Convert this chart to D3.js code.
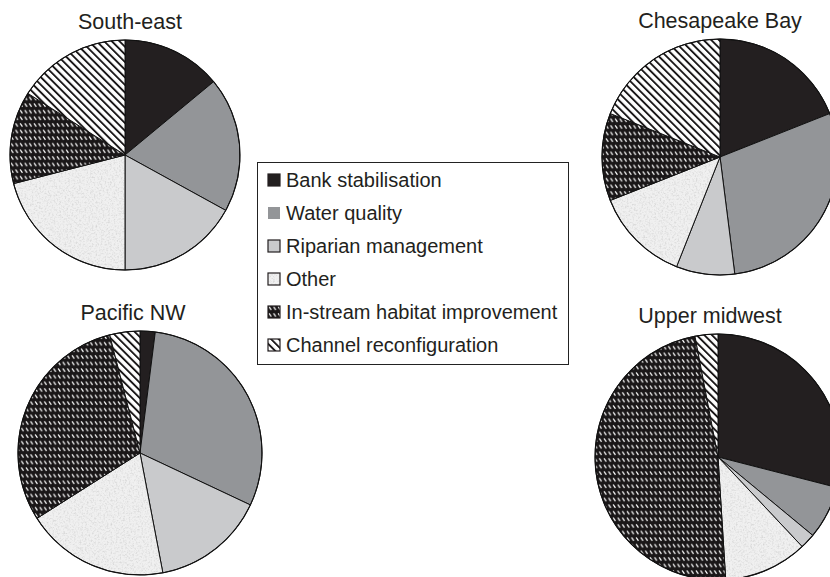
<!DOCTYPE html>
<html>
<head>
<meta charset="utf-8">
<script src="https://cdn.jsdelivr.net/npm/d3@7"></script>
<style>
  body { margin: 0; background: #fff; }
  svg { display: block; font-family: "Liberation Sans", Arial, sans-serif; }
</style>
</head>
<body>
<div id="chart"></div>
<script>
// restoration project types by region (percent of projects)
var categories = ["Bank stabilisation", "Water quality", "Riparian management", "Other",
                  "In-stream habitat improvement", "Channel reconfiguration"];
var regions = ["South-east", "Chesapeake Bay", "Pacific NW", "Upper midwest"];
var southEast = [14, 19, 17, 21, 13, 16];
var chesapeakeBay = [19, 29, 8, 13, 12, 19];
var pacificNW = [2, 30, 15, 19, 30, 4];
var upperMidwest = [29, 7, 2, 11, 48, 3];
var values = [southEast, chesapeakeBay, pacificNW, upperMidwest];

var width = 830, height = 577;

// where each pie sits
var layout = [
  {cx: 125, cy: 155, r: 115, tx: 130},
  {cx: 720, cy: 157, r: 118, tx: 720},
  {cx: 140, cy: 453, r: 122, tx: 133},
  {cx: 718, cy: 457, r: 123, tx: 710}
];

var svg = d3.select("#chart")
  .append("svg")
  .attr("width", width)
  .attr("height", height);

var defs = svg.append("defs");

// speckled light grey for "Other"
var speckle = defs.append("filter")
  .attr("id", "speckle")
  .attr("x", 0).attr("y", 0).attr("width", 1).attr("height", 1);
speckle.append("feTurbulence")
  .attr("type", "fractalNoise")
  .attr("baseFrequency", 0.55)
  .attr("numOctaves", 3)
  .attr("seed", 4)
  .attr("result", "noise");
speckle.append("feColorMatrix")
  .attr("in", "noise")
  .attr("type", "matrix")
  .attr("values", "0 0 0 0 0.55  0 0 0 0 0.55  0 0 0 0 0.55  1.4 0 0 0 -0.62")
  .attr("result", "dots");
speckle.append("feFlood").attr("flood-color", "#f0f0f0").attr("result", "base");
speckle.append("feComposite").attr("in", "dots").attr("in2", "base").attr("operator", "over");

var pOther = defs.append("pattern")
  .attr("id", "other")
  .attr("patternUnits", "userSpaceOnUse")
  .attr("width", 120).attr("height", 120);
pOther.append("rect")
  .attr("width", 120).attr("height", 120)
  .attr("fill", "#f0f0f0")
  .attr("filter", "url(#speckle)");

// black with white dashes for in-stream work
var pDash = defs.append("pattern")
  .attr("id", "instream")
  .attr("patternUnits", "userSpaceOnUse")
  .attr("width", 4.6).attr("height", 6.6);
pDash.append("rect").attr("width", 4.6).attr("height", 6.6).attr("fill", "#1a1718");
pDash.append("line")
  .attr("x1", 1).attr("y1", 1.3).attr("x2", 3.2).attr("y2", 4.5)
  .attr("stroke", "#fff").attr("stroke-width", 1.2);

// diagonal stripes for channel reconfiguration
var pStripe = defs.append("pattern")
  .attr("id", "channel")
  .attr("patternUnits", "userSpaceOnUse")
  .attr("width", 5.4).attr("height", 10)
  .attr("patternTransform", "rotate(-45)");
pStripe.append("rect").attr("width", 5.4).attr("height", 10).attr("fill", "#fff");
pStripe.append("rect").attr("width", 1.9).attr("height", 10).attr("fill", "#1a1718");

var fills = ["#231f20", "#939598", "#c9cacc", "url(#other)", "url(#instream)", "url(#channel)"];
var color = d3.scaleOrdinal().domain(categories).range(fills);

var pie = d3.pie().sort(null).value(function(d) { return d; });

regions.forEach(function(name, i) {
  var L = layout[i];
  var arc = d3.arc().innerRadius(0).outerRadius(L.r);
  var g = svg.append("g")
    .attr("transform", "translate(" + L.cx + "," + L.cy + ")");

  g.selectAll("path")
    .data(pie(values[i]))
    .enter()
    .append("path")
    .attr("d", arc)
    .attr("fill", function(d, j) { return color(categories[j]); })
    .attr("stroke", "#111")
    .attr("stroke-width", 1)
    .attr("stroke-linejoin", "round");

  g.append("circle")
    .attr("r", L.r)
    .attr("fill", "none")
    .attr("stroke", "#111")
    .attr("stroke-width", 1.1);

  svg.append("text")
    .attr("x", L.tx)
    .attr("y", L.cy - L.r - 11)
    .attr("text-anchor", "middle")
    .attr("font-size", 21.5)
    .attr("fill", "#231f20")
    .text(name);
});

// legend
var legend = svg.append("g").attr("transform", "translate(257,162)");
legend.append("rect")
  .attr("x", 0.5).attr("y", 0.5)
  .attr("width", 311).attr("height", 202)
  .attr("fill", "#fff")
  .attr("stroke", "#222")
  .attr("stroke-width", 1);

var item = legend.selectAll(".item")
  .data(categories)
  .enter()
  .append("g")
  .attr("class", "item")
  .attr("transform", function(d, j) { return "translate(11," + (18 + j * 33) + ")"; });

item.append("rect")
  .attr("x", 0).attr("y", -6)
  .attr("width", 12).attr("height", 12)
  .attr("fill", function(d) { return color(d); })
  .attr("stroke", function(d, j) { return j === 1 ? "none" : "#231f20"; })
  .attr("stroke-width", 1.2);

item.append("text")
  .attr("x", 18)
  .attr("y", 0)
  .attr("dy", "0.35em")
  .attr("font-size", 20)
  .attr("fill", "#231f20")
  .text(function(d) { return d; });
</script>
</body>
</html>
